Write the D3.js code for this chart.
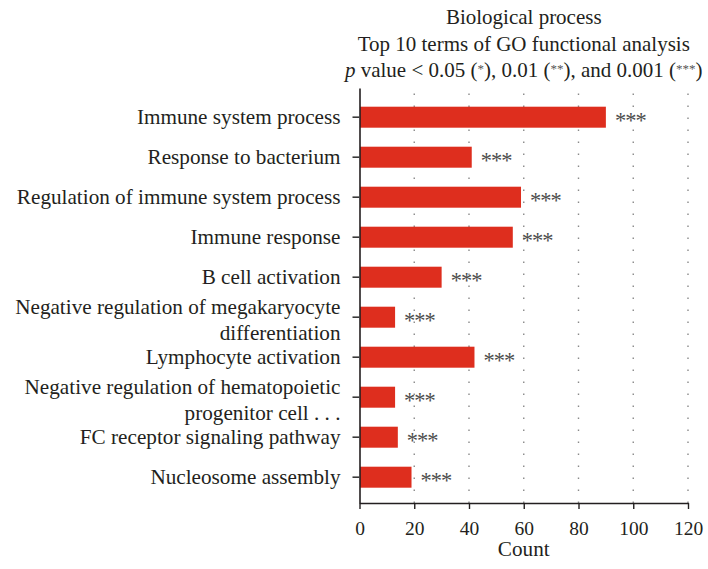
<!DOCTYPE html>
<html>
<head>
<meta charset="utf-8">
<script src="https://cdn.jsdelivr.net/npm/d3@7"></script>
<style>
  html, body { margin: 0; padding: 0; background: #fff; }
  svg { display: block; }
  text { font-family: "Liberation Serif", "Times New Roman", serif; fill: #231f20; }
</style>
</head>
<body>
<svg id="chart" width="708" height="569"></svg>
<script>
// GO biological process terms (top to bottom), gene counts and significance marks
const terms = [
  ["Immune system process"],
  ["Response to bacterium"],
  ["Regulation of immune system process"],
  ["Immune response"],
  ["B cell activation"],
  ["Negative regulation of megakaryocyte", "differentiation"],
  ["Lymphocyte activation"],
  ["Negative regulation of hematopoietic", "progenitor cell . . ."],
  ["FC receptor signaling pathway"],
  ["Nucleosome assembly"]
];
const counts = [90, 41, 59, 56, 30, 13, 42, 13, 14, 19];
const significance = ["***", "***", "***", "***", "***", "***", "***", "***", "***", "***"];
const xTicks = [0, 20, 40, 60, 80, 100, 120];
const titleLines = ["Biological process", "Top 10 terms of GO functional analysis"];

const svg = d3.select("#chart");
const plot = { left: 359.5, right: 688, top: 88, bottom: 503 };
const labelSize = 21.2;
const titleSize = 21;

const x = d3.scaleLinear().domain([0, 120]).range([plot.left, plot.right]);
const y = d3.scaleBand()
  .domain(d3.range(terms.length))
  .range([plot.top, plot.bottom])
  .paddingInner(0.475)
  .paddingOuter(0.425)
  .align(0.55);

// dotted vertical gridlines
svg.append("g")
  .selectAll("line")
  .data(xTicks.filter(d => d > 0))
  .join("line")
  .attr("x1", d => x(d)).attr("x2", d => x(d))
  .attr("y1", plot.bottom).attr("y2", plot.top + 2)
  .attr("stroke", "#8a8a8a")
  .attr("stroke-width", 1.4)
  .attr("stroke-dasharray", "1.4 10.6");

// bars
svg.append("g")
  .selectAll("rect")
  .data(counts)
  .join("rect")
  .attr("x", x(0) + 0.5)
  .attr("y", (d, i) => y(i))
  .attr("width", d => x(d) - x(0) - 0.5)
  .attr("height", y.bandwidth())
  .attr("fill", "#de2e1e");

// significance stars
svg.append("g")
  .selectAll("text")
  .data(counts)
  .join("text")
  .attr("x", d => x(d) + 9)
  .attr("y", (d, i) => y(i) + y.bandwidth() / 2 + 10.5)
  .attr("font-size", 22.5)
  .attr("letter-spacing", "-1px")
  .style("fill", "#4d4d4d")
  .text((d, i) => significance[i]);

// x axis
const xAxis = d3.axisBottom(x).tickValues(xTicks).tickSize(6).tickPadding(12).tickSizeOuter(0);
const gx = svg.append("g").attr("transform", `translate(0,${plot.bottom})`).call(xAxis);
gx.select(".domain").attr("stroke", "#231f20").attr("stroke-width", 1.4);
gx.selectAll(".tick line").attr("stroke", "#231f20").attr("stroke-width", 1.4);
gx.selectAll(".tick text")
  .attr("font-size", 19.5)
  .attr("font-family", null)
  .attr("dy", "0.71em");

// y axis with category labels
const yAxis = d3.axisLeft(y).tickSize(7).tickSizeOuter(0).tickFormat(() => "");
const gy = svg.append("g").attr("transform", `translate(${plot.left},0)`).call(yAxis);
gy.select(".domain").attr("stroke", "#231f20").attr("stroke-width", 1.6);
gy.selectAll(".tick line").attr("stroke", "#3a3a3a").attr("stroke-width", 1.6);

const labels = svg.append("g")
  .selectAll("text")
  .data(terms)
  .join("text")
  .attr("text-anchor", "end")
  .attr("font-size", labelSize)
  .attr("x", plot.left - 19)
  .attr("y", (d, i) => y(i) + y.bandwidth() / 2);
labels.selectAll("tspan")
  .data(d => d.map((line, k) => ({ line, k, n: d.length })))
  .join("tspan")
  .attr("x", plot.left - 19)
  .attr("dy", t => t.n === 1 ? "0.32em" : (t.k === 0 ? "-0.16em" : "1.24em"))
  .text(t => t.line);

// axis title
svg.append("text")
  .attr("x", (plot.left + plot.right) / 2)
  .attr("y", 556)
  .attr("text-anchor", "middle")
  .attr("font-size", labelSize)
  .text("Count");

// chart title
const cx = (plot.left + plot.right) / 2;
titleLines.forEach((t, i) => {
  svg.append("text")
    .attr("x", cx)
    .attr("y", 24 + i * 26.5)
    .attr("text-anchor", "middle")
    .attr("font-size", titleSize)
    .text(t);
});

// subtitle: italic p, with smaller raised asterisks in the parentheses
const subParts = [
  { t: "p", italic: true },
  { t: " value < 0.05 (" },
  { t: "*", star: true },
  { t: "), 0.01 (" },
  { t: "**", star: true },
  { t: "), and 0.001 (" },
  { t: "***", star: true },
  { t: ")" }
];
const sub = svg.append("text")
  .attr("x", cx)
  .attr("y", 77)
  .attr("text-anchor", "middle")
  .attr("font-size", titleSize);
let shift = 0;
subParts.forEach(p => {
  const target = p.star ? -4 : 0;
  const ts = sub.append("tspan").attr("dy", target - shift).text(p.t);
  shift = target;
  if (p.italic) ts.attr("font-style", "italic");
  if (p.star) ts.attr("font-size", 13).style("fill", "#555");
});
</script>
</body>
</html>
